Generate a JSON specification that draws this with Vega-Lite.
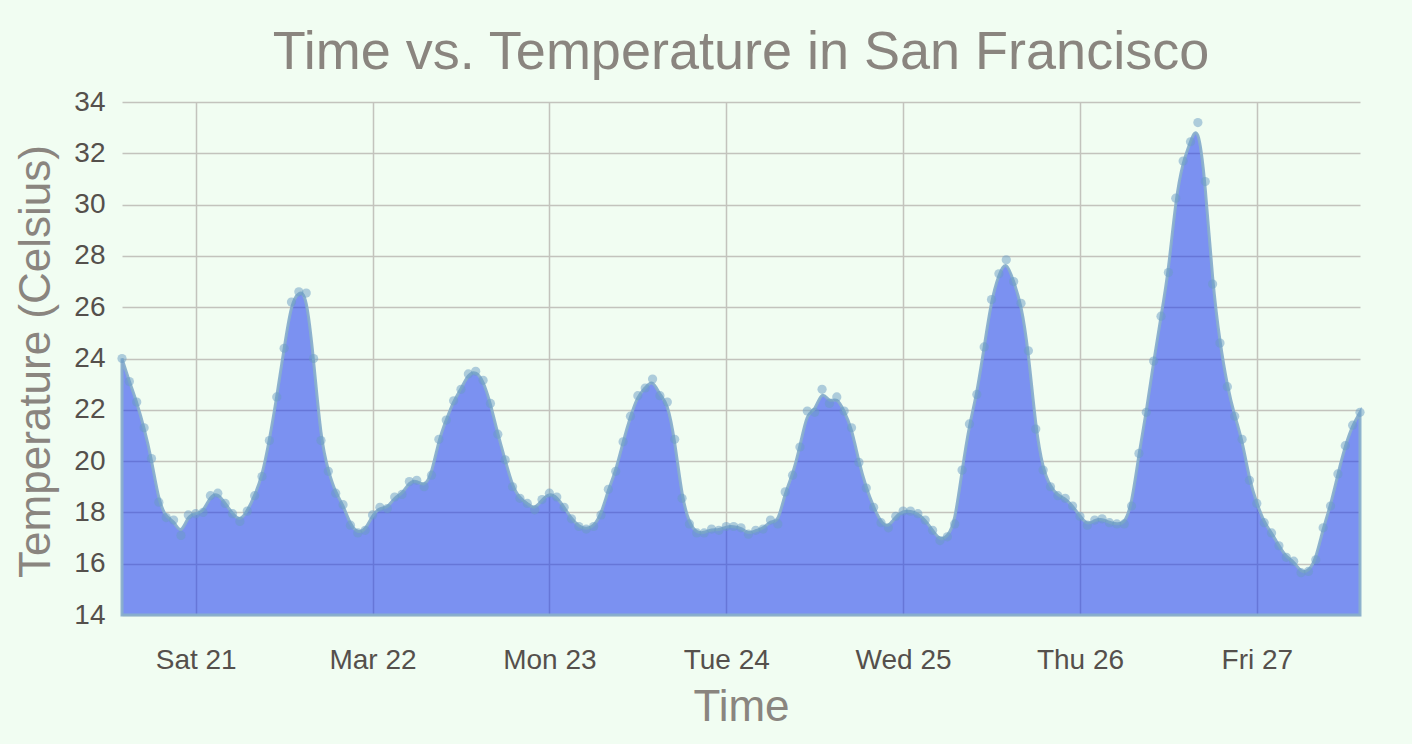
{
  "$schema": "https://vega.github.io/schema/vega-lite/v6.json",
  "autosize": "none",
  "width": 1238,
  "height": 513,
  "padding": {"left": 122, "top": 102, "right": 52, "bottom": 129},
  "background": "#f1fdf2",
  "title": {
    "text": "Time vs. Temperature in San Francisco",
    "fontSize": 54,
    "font": "Liberation Sans",
    "fontWeight": "normal",
    "color": "#8a857f",
    "anchor": "middle",
    "baseline": "alphabetic",
    "offset": -35
  },
  "config": {
    "view": {"stroke": null},
    "font": "Liberation Sans"
  },
  "data": {
    "values": [
      {"t": "2020-03-20T14:00:00Z", "temp": 24.0},
      {"t": "2020-03-20T15:00:00Z", "temp": 23.1},
      {"t": "2020-03-20T16:00:00Z", "temp": 22.3},
      {"t": "2020-03-20T17:00:00Z", "temp": 21.3},
      {"t": "2020-03-20T18:00:00Z", "temp": 20.1},
      {"t": "2020-03-20T19:00:00Z", "temp": 18.4},
      {"t": "2020-03-20T20:00:00Z", "temp": 17.8},
      {"t": "2020-03-20T21:00:00Z", "temp": 17.7},
      {"t": "2020-03-20T22:00:00Z", "temp": 17.1},
      {"t": "2020-03-20T23:00:00Z", "temp": 17.9},
      {"t": "2020-03-21T00:00:00Z", "temp": 17.95},
      {"t": "2020-03-21T01:00:00Z", "temp": 18.0},
      {"t": "2020-03-21T02:00:00Z", "temp": 18.65},
      {"t": "2020-03-21T03:00:00Z", "temp": 18.75},
      {"t": "2020-03-21T04:00:00Z", "temp": 18.35},
      {"t": "2020-03-21T05:00:00Z", "temp": 17.95},
      {"t": "2020-03-21T06:00:00Z", "temp": 17.65},
      {"t": "2020-03-21T07:00:00Z", "temp": 18.05},
      {"t": "2020-03-21T08:00:00Z", "temp": 18.65},
      {"t": "2020-03-21T09:00:00Z", "temp": 19.4},
      {"t": "2020-03-21T10:00:00Z", "temp": 20.8},
      {"t": "2020-03-21T11:00:00Z", "temp": 22.5},
      {"t": "2020-03-21T12:00:00Z", "temp": 24.4},
      {"t": "2020-03-21T13:00:00Z", "temp": 26.2},
      {"t": "2020-03-21T14:00:00Z", "temp": 26.6},
      {"t": "2020-03-21T15:00:00Z", "temp": 26.55},
      {"t": "2020-03-21T16:00:00Z", "temp": 24.0},
      {"t": "2020-03-21T17:00:00Z", "temp": 20.8},
      {"t": "2020-03-21T18:00:00Z", "temp": 19.6},
      {"t": "2020-03-21T19:00:00Z", "temp": 18.75},
      {"t": "2020-03-21T20:00:00Z", "temp": 18.3},
      {"t": "2020-03-21T21:00:00Z", "temp": 17.5},
      {"t": "2020-03-21T22:00:00Z", "temp": 17.2},
      {"t": "2020-03-21T23:00:00Z", "temp": 17.3},
      {"t": "2020-03-22T00:00:00Z", "temp": 17.9},
      {"t": "2020-03-22T01:00:00Z", "temp": 18.2},
      {"t": "2020-03-22T02:00:00Z", "temp": 18.15},
      {"t": "2020-03-22T03:00:00Z", "temp": 18.6},
      {"t": "2020-03-22T04:00:00Z", "temp": 18.7},
      {"t": "2020-03-22T05:00:00Z", "temp": 19.2},
      {"t": "2020-03-22T06:00:00Z", "temp": 19.25},
      {"t": "2020-03-22T07:00:00Z", "temp": 19.0},
      {"t": "2020-03-22T08:00:00Z", "temp": 19.45},
      {"t": "2020-03-22T09:00:00Z", "temp": 20.85},
      {"t": "2020-03-22T10:00:00Z", "temp": 21.6},
      {"t": "2020-03-22T11:00:00Z", "temp": 22.35},
      {"t": "2020-03-22T12:00:00Z", "temp": 22.8},
      {"t": "2020-03-22T13:00:00Z", "temp": 23.4},
      {"t": "2020-03-22T14:00:00Z", "temp": 23.5},
      {"t": "2020-03-22T15:00:00Z", "temp": 23.15},
      {"t": "2020-03-22T16:00:00Z", "temp": 22.25},
      {"t": "2020-03-22T17:00:00Z", "temp": 21.05},
      {"t": "2020-03-22T18:00:00Z", "temp": 20.05},
      {"t": "2020-03-22T19:00:00Z", "temp": 19.0},
      {"t": "2020-03-22T20:00:00Z", "temp": 18.55},
      {"t": "2020-03-22T21:00:00Z", "temp": 18.35},
      {"t": "2020-03-22T22:00:00Z", "temp": 18.1},
      {"t": "2020-03-22T23:00:00Z", "temp": 18.5},
      {"t": "2020-03-23T00:00:00Z", "temp": 18.75},
      {"t": "2020-03-23T01:00:00Z", "temp": 18.6},
      {"t": "2020-03-23T02:00:00Z", "temp": 18.2},
      {"t": "2020-03-23T03:00:00Z", "temp": 17.75},
      {"t": "2020-03-23T04:00:00Z", "temp": 17.45},
      {"t": "2020-03-23T05:00:00Z", "temp": 17.35},
      {"t": "2020-03-23T06:00:00Z", "temp": 17.45},
      {"t": "2020-03-23T07:00:00Z", "temp": 17.9},
      {"t": "2020-03-23T08:00:00Z", "temp": 18.9},
      {"t": "2020-03-23T09:00:00Z", "temp": 19.6},
      {"t": "2020-03-23T10:00:00Z", "temp": 20.75},
      {"t": "2020-03-23T11:00:00Z", "temp": 21.75},
      {"t": "2020-03-23T12:00:00Z", "temp": 22.55},
      {"t": "2020-03-23T13:00:00Z", "temp": 22.85},
      {"t": "2020-03-23T14:00:00Z", "temp": 23.2},
      {"t": "2020-03-23T15:00:00Z", "temp": 22.55},
      {"t": "2020-03-23T16:00:00Z", "temp": 22.3},
      {"t": "2020-03-23T17:00:00Z", "temp": 20.85},
      {"t": "2020-03-23T18:00:00Z", "temp": 18.55},
      {"t": "2020-03-23T19:00:00Z", "temp": 17.55},
      {"t": "2020-03-23T20:00:00Z", "temp": 17.2},
      {"t": "2020-03-23T21:00:00Z", "temp": 17.2},
      {"t": "2020-03-23T22:00:00Z", "temp": 17.35},
      {"t": "2020-03-23T23:00:00Z", "temp": 17.3},
      {"t": "2020-03-24T00:00:00Z", "temp": 17.45},
      {"t": "2020-03-24T01:00:00Z", "temp": 17.45},
      {"t": "2020-03-24T02:00:00Z", "temp": 17.4},
      {"t": "2020-03-24T03:00:00Z", "temp": 17.15},
      {"t": "2020-03-24T04:00:00Z", "temp": 17.3},
      {"t": "2020-03-24T05:00:00Z", "temp": 17.35},
      {"t": "2020-03-24T06:00:00Z", "temp": 17.7},
      {"t": "2020-03-24T07:00:00Z", "temp": 17.55},
      {"t": "2020-03-24T08:00:00Z", "temp": 18.8},
      {"t": "2020-03-24T09:00:00Z", "temp": 19.45},
      {"t": "2020-03-24T10:00:00Z", "temp": 20.55},
      {"t": "2020-03-24T11:00:00Z", "temp": 21.95},
      {"t": "2020-03-24T12:00:00Z", "temp": 21.9},
      {"t": "2020-03-24T13:00:00Z", "temp": 22.8},
      {"t": "2020-03-24T14:00:00Z", "temp": 22.25},
      {"t": "2020-03-24T15:00:00Z", "temp": 22.5},
      {"t": "2020-03-24T16:00:00Z", "temp": 21.95},
      {"t": "2020-03-24T17:00:00Z", "temp": 21.3},
      {"t": "2020-03-24T18:00:00Z", "temp": 19.95},
      {"t": "2020-03-24T19:00:00Z", "temp": 18.95},
      {"t": "2020-03-24T20:00:00Z", "temp": 18.2},
      {"t": "2020-03-24T21:00:00Z", "temp": 17.6},
      {"t": "2020-03-24T22:00:00Z", "temp": 17.4},
      {"t": "2020-03-24T23:00:00Z", "temp": 17.85},
      {"t": "2020-03-25T00:00:00Z", "temp": 18.05},
      {"t": "2020-03-25T01:00:00Z", "temp": 18.05},
      {"t": "2020-03-25T02:00:00Z", "temp": 17.95},
      {"t": "2020-03-25T03:00:00Z", "temp": 17.7},
      {"t": "2020-03-25T04:00:00Z", "temp": 17.3},
      {"t": "2020-03-25T05:00:00Z", "temp": 16.9},
      {"t": "2020-03-25T06:00:00Z", "temp": 17.05},
      {"t": "2020-03-25T07:00:00Z", "temp": 17.55},
      {"t": "2020-03-25T08:00:00Z", "temp": 19.65},
      {"t": "2020-03-25T09:00:00Z", "temp": 21.45},
      {"t": "2020-03-25T10:00:00Z", "temp": 22.6},
      {"t": "2020-03-25T11:00:00Z", "temp": 24.45},
      {"t": "2020-03-25T12:00:00Z", "temp": 26.3},
      {"t": "2020-03-25T13:00:00Z", "temp": 27.3},
      {"t": "2020-03-25T14:00:00Z", "temp": 27.85},
      {"t": "2020-03-25T15:00:00Z", "temp": 27.0},
      {"t": "2020-03-25T16:00:00Z", "temp": 26.15},
      {"t": "2020-03-25T17:00:00Z", "temp": 24.3},
      {"t": "2020-03-25T18:00:00Z", "temp": 21.25},
      {"t": "2020-03-25T19:00:00Z", "temp": 19.65},
      {"t": "2020-03-25T20:00:00Z", "temp": 19.0},
      {"t": "2020-03-25T21:00:00Z", "temp": 18.65},
      {"t": "2020-03-25T22:00:00Z", "temp": 18.55},
      {"t": "2020-03-25T23:00:00Z", "temp": 18.25},
      {"t": "2020-03-26T00:00:00Z", "temp": 17.85},
      {"t": "2020-03-26T01:00:00Z", "temp": 17.5},
      {"t": "2020-03-26T02:00:00Z", "temp": 17.7},
      {"t": "2020-03-26T03:00:00Z", "temp": 17.75},
      {"t": "2020-03-26T04:00:00Z", "temp": 17.6},
      {"t": "2020-03-26T05:00:00Z", "temp": 17.55},
      {"t": "2020-03-26T06:00:00Z", "temp": 17.55},
      {"t": "2020-03-26T07:00:00Z", "temp": 18.25},
      {"t": "2020-03-26T08:00:00Z", "temp": 20.3},
      {"t": "2020-03-26T09:00:00Z", "temp": 21.9},
      {"t": "2020-03-26T10:00:00Z", "temp": 23.9},
      {"t": "2020-03-26T11:00:00Z", "temp": 25.65},
      {"t": "2020-03-26T12:00:00Z", "temp": 27.35},
      {"t": "2020-03-26T13:00:00Z", "temp": 30.25},
      {"t": "2020-03-26T14:00:00Z", "temp": 31.7},
      {"t": "2020-03-26T15:00:00Z", "temp": 32.45},
      {"t": "2020-03-26T16:00:00Z", "temp": 33.2},
      {"t": "2020-03-26T17:00:00Z", "temp": 30.9},
      {"t": "2020-03-26T18:00:00Z", "temp": 26.9},
      {"t": "2020-03-26T19:00:00Z", "temp": 24.6},
      {"t": "2020-03-26T20:00:00Z", "temp": 22.9},
      {"t": "2020-03-26T21:00:00Z", "temp": 21.75},
      {"t": "2020-03-26T22:00:00Z", "temp": 20.85},
      {"t": "2020-03-26T23:00:00Z", "temp": 19.25},
      {"t": "2020-03-27T00:00:00Z", "temp": 18.35},
      {"t": "2020-03-27T01:00:00Z", "temp": 17.6},
      {"t": "2020-03-27T02:00:00Z", "temp": 17.2},
      {"t": "2020-03-27T03:00:00Z", "temp": 16.7},
      {"t": "2020-03-27T04:00:00Z", "temp": 16.25},
      {"t": "2020-03-27T05:00:00Z", "temp": 16.1},
      {"t": "2020-03-27T06:00:00Z", "temp": 15.65},
      {"t": "2020-03-27T07:00:00Z", "temp": 15.7},
      {"t": "2020-03-27T08:00:00Z", "temp": 16.15},
      {"t": "2020-03-27T09:00:00Z", "temp": 17.4},
      {"t": "2020-03-27T10:00:00Z", "temp": 18.25},
      {"t": "2020-03-27T11:00:00Z", "temp": 19.5},
      {"t": "2020-03-27T12:00:00Z", "temp": 20.6},
      {"t": "2020-03-27T13:00:00Z", "temp": 21.4},
      {"t": "2020-03-27T14:00:00Z", "temp": 21.9}
    ]
  },
  "encoding": {
    "x": {
      "field": "t",
      "type": "temporal",
      "scale": {"type": "utc", "domain": ["2020-03-20T14:00:00Z", "2020-03-27T14:00:00Z"], "nice": false},
      "axis": {
        "title": "Time",
        "tickCount": {"interval": "day", "step": 1},
        "grid": true,
        "gridColor": "#c3c3bd",
        "gridWidth": 1.5,
        "domain": false,
        "ticks": false,
        "tickSize": 0,
        "labelFontSize": 28,
        "labelColor": "#55504c",
        "labelFont": "Liberation Sans",
        "labelBaseline": "alphabetic",
        "labelPadding": 53,
        "labelFlush": false,
        "labelOverlap": false,
        "titleFontSize": 44,
        "titleFontWeight": "normal",
        "titleColor": "#8a857f",
        "titleFont": "Liberation Sans",
        "titleBaseline": "alphabetic",
        "titleY": 105
      }
    },
    "y": {
      "field": "temp",
      "type": "quantitative",
      "scale": {"domain": [14, 34], "nice": false, "zero": false},
      "axis": {
        "title": "Temperature (Celsius)",
        "values": [14, 16, 18, 20, 22, 24, 26, 28, 30, 32, 34],
        "grid": true,
        "gridColor": "#c3c3bd",
        "gridWidth": 1.5,
        "domain": false,
        "ticks": false,
        "tickSize": 0,
        "labelFontSize": 28,
        "labelColor": "#55504c",
        "labelFont": "Liberation Sans",
        "labelPadding": 17,
        "labelFlush": false,
        "labelOverlap": false,
        "titleFontSize": 44,
        "titleFontWeight": "normal",
        "titleColor": "#8a857f",
        "titleFont": "Liberation Sans",
        "titleBaseline": "alphabetic",
        "titleAngle": 270,
        "titleAlign": "center",
        "titleX": -73,
        "titleY": 259
      }
    }
  },
  "layer": [
    {
      "mark": {
        "type": "area",
        "interpolate": "basis",
        "fill": "#1232f0",
        "fillOpacity": 0.53,
        "stroke": "#88aecb",
        "strokeWidth": 3,
        "strokeOpacity": 0.95
      },
      "encoding": {
        "y2": {"datum": 14}
      }
    },
    {
      "mark": {
        "type": "circle",
        "size": 85,
        "color": "#6a9cc4",
        "opacity": 0.5
      }
    }
  ]
}
